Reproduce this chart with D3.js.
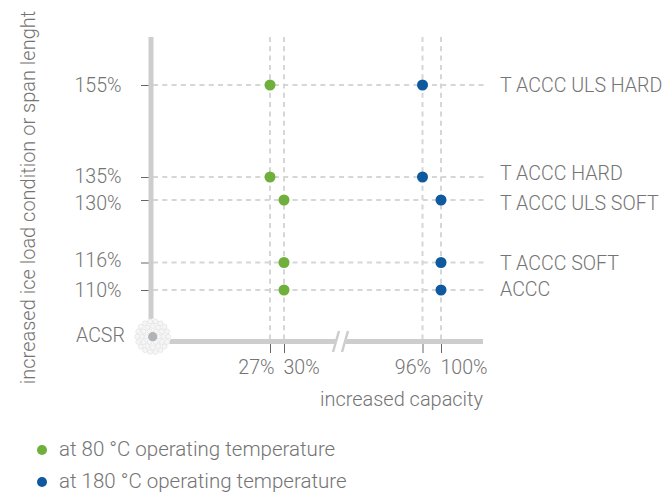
<!DOCTYPE html>
<html><head><meta charset="utf-8">
<script src="https://cdn.jsdelivr.net/npm/d3@7/dist/d3.min.js"></script>
<style>html,body{margin:0;padding:0;background:#fff}svg{display:block}text{font-family:"Roboto",sans-serif;font-weight:300;fill:#747474;font-size:19.6px}</style>
</head><body><svg id="c" width="664" height="493"></svg>
<script>
const conductors=["T ACCC ULS HARD","T ACCC HARD","T ACCC ULS SOFT","T ACCC SOFT","ACCC"];
const loadPct=[155,135,130,116,110];
const cap80=[27,27,30,30,30];
const cap180=[96,96,100,100,100];
const xTicks=[27,30,96,100];
const yDomain=[100,110,116,130,135,155];
const xDomain=[27,30,96,100];
const legendLabels=["at 80 °C operating temperature","at 180 °C operating temperature"];
const GREEN="#6fb03c",BLUE="#0f5a9f",GRID="#d6d6d6",AXIS="#cdcdcd";
// hand-placed label offsets of the original layout
const nameNudge=[0,-4,3,0,-1], pctNudge=[-1,-2,2,-3,-1], xDx=[4,-1,8,-1];

const svg=d3.select("#c");
const x=d3.scaleLinear().domain(xDomain).range([270,284,422.5,441]);
const y=d3.scaleLinear().domain(yDomain).range([341,290,262.5,200,177,85]);

const grid=svg.append("g").attr("fill","none").attr("stroke",GRID).attr("stroke-width",2).attr("stroke-dasharray","5 4.3");
grid.selectAll(".h").data(loadPct).join("line").attr("x1",153).attr("x2",484).attr("y1",d=>y(d)).attr("y2",d=>y(d));
grid.selectAll(".v").data(xTicks).join("line").attr("x1",d=>x(d)).attr("x2",d=>x(d)).attr("y1",37).attr("y2",341);

// axes
const axL=svg.append("g").attr("transform","translate(151,0)").call(d3.axisLeft(y).tickValues(loadPct).tickSize(10).tickPadding(19).tickFormat(d=>d+"%"));
axL.select(".domain").remove();
axL.selectAll("line").attr("stroke","#666").attr("stroke-width",1);
axL.selectAll("text").attr("dy","0.36em").attr("x",-29.5).attr("y",(d,i)=>pctNudge[i]);
const axB=svg.append("g").attr("transform","translate(0,341)").call(d3.axisBottom(x).tickValues(xTicks).tickSize(12).tickPadding(13).tickFormat(d=>d+"%"));
axB.select(".domain").remove();
axB.selectAll("line").attr("stroke","#666").attr("stroke-width",1);
axB.selectAll("text").attr("text-anchor",(d,i)=>i%2?"start":"end").attr("dx",(d,i)=>xDx[i]).attr("dy",0).attr("y",33);

svg.append("line").attr("x1",151).attr("x2",151).attr("y1",37).attr("y2",343).attr("stroke",AXIS).attr("stroke-width",5);
svg.append("line").attr("x1",151).attr("x2",483).attr("y1",341.5).attr("y2",341.5).attr("stroke",AXIS).attr("stroke-width",5);
// axis break
svg.append("polygon").attr("points","337,338 347,338 345,345 335,345").attr("fill","#fff");
[0,9].forEach(o=>svg.append("line").attr("x1",339+o).attr("y1",331).attr("x2",333+o).attr("y2",352).attr("stroke",AXIS).attr("stroke-width",2.5));

// conductor icon
const icon=svg.append("g").attr("transform","translate(152.7,336.7)");
icon.append("circle").attr("r",18).attr("fill","#fff");
[[15.4,18],[10.6,12],[6.2,6]].forEach(([r,n])=>{
  d3.range(n).forEach(i=>{
    const a=2*Math.PI*i/n;
    icon.append("circle").attr("cx",r*Math.cos(a)).attr("cy",r*Math.sin(a)).attr("r",2.5).attr("fill","#f6f6f6").attr("stroke","#dedede").attr("stroke-width",.6);
  });
});
icon.append("circle").attr("r",4.6).attr("fill","#b0b4b7");
svg.append("text").attr("x",76).attr("y",342).text("ACSR");

// points
const rows=loadPct.map((p,i)=>({p,a:cap80[i],b:cap180[i],name:conductors[i],n:nameNudge[i]}));
svg.selectAll(".g").data(rows).join("circle").attr("cx",d=>x(d.a)).attr("cy",d=>y(d.p)).attr("r",5.5).attr("fill",GREEN);
svg.selectAll(".b").data(rows).join("circle").attr("cx",d=>x(d.b)).attr("cy",d=>y(d.p)).attr("r",5.5).attr("fill",BLUE);
svg.selectAll(".n").data(rows).join("text").attr("x",500).attr("y",d=>y(d.p)+d.n).attr("dy","0.36em").text(d=>d.name);

// axis titles
svg.append("text").attr("x",483).attr("y",406).attr("text-anchor","end").style("font-size","19.95px").text("increased capacity");
svg.append("text").attr("transform","translate(35,197.5) rotate(-90)").attr("text-anchor","middle").style("font-size","20px").text("increased ice load condition or span lenght");

// legend
legendLabels.forEach((t,i)=>{
  const ly=450+i*32;
  svg.append("circle").attr("cx",42).attr("cy",ly).attr("r",5).attr("fill",i?BLUE:GREEN);
  svg.append("text").attr("x",59).attr("y",ly+6).style("font-size","20.5px").text(t);
});
</script></body></html>
